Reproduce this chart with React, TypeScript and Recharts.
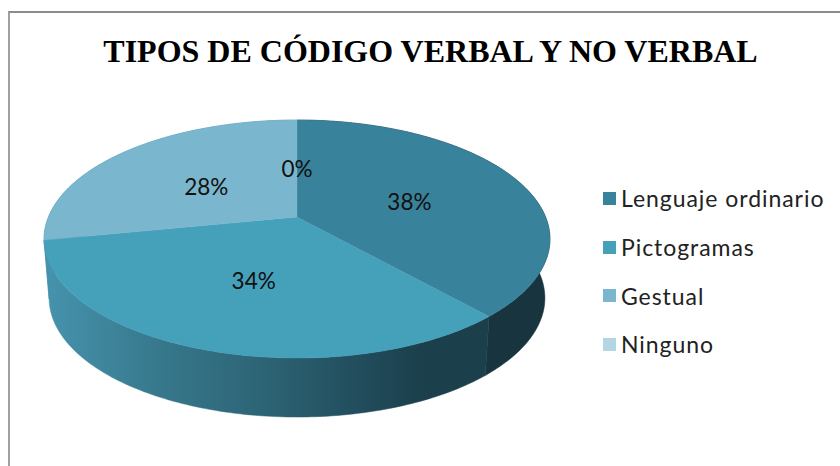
import { PieChart, Pie, Legend } from 'recharts';

const categories = ['Lenguaje ordinario', 'Pictogramas', 'Gestual', 'Ninguno'];
const percents = [38.4, 33.5, 28.1, 0];
const colors = ['#39829b', '#45a0ba', '#7ab7ce', '#b4d5e2'];
const wallColors = ['#17343f', 'url(#wallGrad)', '#4592ac', '#4592ac'];

const data = categories.map((name, i) => ({
  name,
  value: percents[i],
  fill: colors[i],
  wallFill: wallColors[i],
}));

// the pie is tilted, so the plan circle goes through a small perspective map
const PERSPECTIVE = -0.185;
const SQUASH = 74.8;
const DEPTH = 59;
const BOTTOM_SCALE = 0.98;

const project = (cx: number, cy: number, r: number, angle: number, frac = 1) => {
  const rad = (angle * Math.PI) / 180;
  const u = frac * Math.cos(rad);
  const v = -frac * Math.sin(rad);
  const w = 1 + PERSPECTIVE * v;
  return [cx + (r * u) / w, (cy + SQUASH * v) / w];
};

const rim = (p: any) => {
  const pts: number[][] = [];
  const span = p.endAngle - p.startAngle;
  const steps = Math.max(1, Math.ceil(Math.abs(span)));
  for (let i = 0; i <= steps; i++) {
    pts.push(project(p.cx, p.cy, p.outerRadius, p.startAngle + (span * i) / steps));
  }
  return pts;
};

const toPath = (pts: number[][]) =>
  'M' + pts.map((q) => q[0].toFixed(2) + ' ' + q[1].toFixed(2)).join('L') + 'Z';

const TopSlice = (p: any) => {
  if (p.startAngle === p.endAngle) return <g />;
  return <path d={toPath([[p.cx, p.cy], ...rim(p)])} fill={p.fill} stroke={p.fill} strokeWidth={0.4} />;
};

const WallSlice = (p: any) => {
  if (p.startAngle === p.endAngle) return <g />;
  const top = rim(p);
  const bottom = top
    .map((q) => [p.cx + (q[0] - p.cx) * BOTTOM_SCALE, q[1] + DEPTH])
    .reverse();
  return <path d={toPath([...top, ...bottom])} fill={p.wallFill} stroke={p.wallFill} strokeWidth={0.5} />;
};

const percentLabel = (p: any) => {
  const [x, y] = project(p.cx, p.cy, p.outerRadius, p.midAngle, 0.5);
  return (
    <text
      x={x}
      y={y + 4}
      textAnchor="middle"
      dominantBaseline="central"
      fontFamily="Lato"
      fontSize={22.5}
      fill="#111"
    >
      {Math.round(p.percent * 100)}%
    </text>
  );
};

const LegendBox = ({ payload }: any) => {
  // both pies report their slices, keep one row per category
  const rows = categories.map((name) => (payload || []).find((item: any) => item.value === name)).filter(Boolean);
  return (
    <div style={{ fontFamily: 'Lato', fontSize: 23, color: '#222', letterSpacing: 0.95 }}>
      {rows.map((item: any) => (
        <div key={item.value} style={{ display: 'flex', alignItems: 'center', height: 48.7 }}>
          <span style={{ width: 13, height: 13, background: item.color, marginRight: 5 }} />
          <span style={{ whiteSpace: 'nowrap' }}>{item.value}</span>
        </div>
      ))}
    </div>
  );
};

export default function App() {
  return (
    <div style={{ position: 'absolute', left: 0, top: 0, width: 840, height: 466, overflow: 'hidden', background: '#fff' }}>
      <div style={{ position: 'absolute', left: 8, top: 11, width: 840, height: 470, borderTop: '2px solid #8c8c8c', borderLeft: '2px solid #a0a0a0' }} />
      <div style={{ position: 'absolute', left: 0, top: 0 }}>
        <PieChart width={840} height={466} margin={{ top: 0, right: 0, bottom: 0, left: 0 }}>
          <defs>
            <linearGradient id="wallGrad" gradientUnits="userSpaceOnUse" x1={50} y1={0} x2={487} y2={0}>
              <stop offset="0" stopColor="#4592ac" />
              <stop offset="0.25" stopColor="#37788c" />
              <stop offset="0.5" stopColor="#2c6374" />
              <stop offset="0.72" stopColor="#214c5b" />
              <stop offset="0.85" stopColor="#1b3f4b" />
              <stop offset="1" stopColor="#1c404b" />
            </linearGradient>
          </defs>
          <text
            x={430.5}
            y={62}
            textAnchor="middle"
            fontFamily="Liberation Serif"
            fontWeight="bold"
            fontSize={32}
            fill="#000"
          >
            TIPOS DE CÓDIGO VERBAL Y NO VERBAL
          </text>
          <Pie
            data={data}
            dataKey="value"
            nameKey="name"
            cx={297}
            cy={217}
            outerRadius={248.6}
            startAngle={90}
            endAngle={-270}
            legendType="none"
            shape={WallSlice}
            isAnimationActive={false}
          />
          <Pie
            data={data}
            dataKey="value"
            nameKey="name"
            cx={297}
            cy={217}
            outerRadius={248.6}
            startAngle={90}
            endAngle={-270}
            legendType="square"
            shape={TopSlice}
            label={percentLabel}
            labelLine={false}
            isAnimationActive={false}
          />
          <Legend
            layout="vertical"
            content={LegendBox}
            wrapperStyle={{ left: 603, top: 174, width: 237, bottom: 'auto' }}
          />
        </PieChart>
      </div>
    </div>
  );
}
